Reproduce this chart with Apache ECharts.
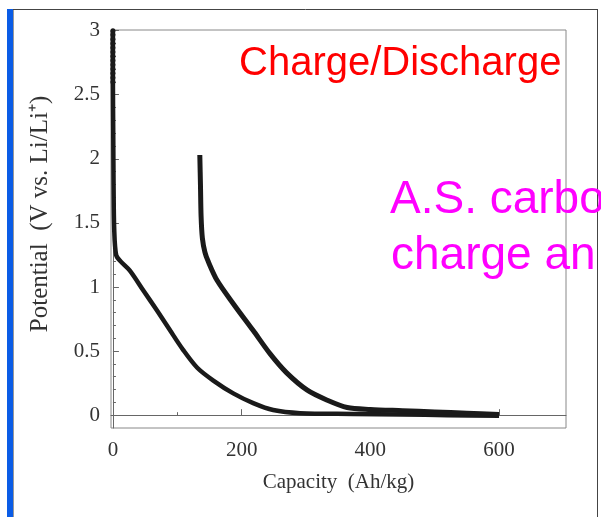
<!DOCTYPE html>
<html>
<head>
<meta charset="utf-8">
<script src="https://cdn.jsdelivr.net/npm/echarts@6/dist/echarts.min.js"></script>
<style>html,body{margin:0;padding:0;background:#fff;}#c{width:601px;height:517px;}</style>
</head>
<body>
<div id="c"></div>
<script>
// Discharge curve (first cycle, starting at 3 V)
var dischargeCap = [0,0,0,0,0,0,0,0,0,0,0,0,0,0.5,1,2,5,12,26,47,68,89,109,131,156,187,218,249,291,373,450,520,600];
var dischargePot = [3.0,2.967,2.933,2.9,2.867,2.833,2.8,2.767,2.733,2.7,2.667,2.633,2.6,2.2,1.8,1.45,1.25,1.2,1.13,0.975,0.82,0.66,0.51,0.37,0.27,0.17,0.094,0.04,0.016,0.01,0.005,0.0,-0.005];
// Charge curve (starting at 2 V)
var chargeCap = [135,136,137,139,143,148,162,187,218,244,270,302,333,364,400,450,500,550,600];
var chargePot = [2.03,1.8,1.55,1.38,1.27,1.2,1.05,0.87,0.66,0.48,0.33,0.195,0.117,0.06,0.045,0.035,0.025,0.015,0.005];
// Tick values
var xMajorTicks = [0,200,400,600];
var xMinorTicks = [100,300,500];
var yMajorTicks = [0,0.5,1,1.5,2,2.5,3];
var yMinorTicks = [0.1,0.2,0.3,0.4,0.6,0.7,0.8,0.9,1.1,1.2,1.3,1.4,1.6,1.7,1.8,1.9,2.1,2.2,2.3,2.4,2.6,2.7,2.8,2.9];
var xName = 'Capacity  (Ah/kg)';
var yName = 'Potential  (V vs. Li/Li\u207A)';
var titleText = 'Charge/Discharge';
var noteLine1 = 'A.S. carbo';
var noteLine2 = 'charge an';

function zip(a, b) { return a.map(function (v, i) { return [v, b[i]]; }); }

var serif = 'Liberation Serif';
var axisColor = '#666';
var txtColor = '#333';

var chart = echarts.init(document.getElementById('c'), null, {renderer: 'canvas'});
chart.setOption({
  animation: false,
  backgroundColor: '#fff',
  grid: {left: 111, top: 30, right: 35, bottom: 89, show: true, borderColor: '#888', borderWidth: 1, backgroundColor: 'transparent'},
  xAxis: [{
    type: 'value', min: -3, max: 704,
    name: xName, nameLocation: 'middle', nameGap: 44,
    nameTextStyle: {fontFamily: serif, fontSize: 21, color: txtColor},
    axisLine: {show: true, lineStyle: {color: axisColor, width: 1}},
    axisTick: {show: true, inside: true, length: 6, customValues: xMajorTicks, lineStyle: {color: axisColor}},
    axisLabel: {show: true, customValues: xMajorTicks, margin: 12, fontFamily: serif, fontSize: 21, color: txtColor},
    splitLine: {show: false}
  }, {
    type: 'value', min: -3, max: 704, position: 'bottom',
    axisLine: {show: false},
    axisTick: {show: true, inside: true, length: 3, customValues: xMinorTicks, lineStyle: {color: axisColor}},
    axisLabel: {show: false},
    splitLine: {show: false}
  }],
  yAxis: [{
    type: 'value', min: -0.1, max: 3.005,
    name: yName, nameLocation: 'middle', nameGap: 58,
    nameTextStyle: {fontFamily: serif, fontSize: 25, color: txtColor, padding: [0, 0, 0, 30]},
    axisLine: {show: true, lineStyle: {color: axisColor, width: 1}},
    axisTick: {show: true, inside: true, length: 6, customValues: yMajorTicks, lineStyle: {color: axisColor}},
    axisLabel: {show: true, customValues: yMajorTicks, margin: 11, fontFamily: serif, fontSize: 21, color: txtColor},
    splitLine: {show: false}
  }, {
    type: 'value', min: -0.1, max: 3.005, position: 'left',
    axisLine: {show: false},
    axisTick: {show: true, inside: true, length: 3, customValues: yMinorTicks, lineStyle: {color: axisColor}},
    axisLabel: {show: false},
    splitLine: {show: false}
  }],
  series: [{
    type: 'line', name: 'Discharge', xAxisIndex: 0, yAxisIndex: 0,
    data: zip(dischargeCap, dischargePot),
    showSymbol: true, symbol: 'circle',
    symbolSize: function (v) { return v[1] >= 2.59 ? 5 : 0; },
    itemStyle: {color: '#1a1a1a'},
    lineStyle: {color: '#1a1a1a', width: 4.5},
    smooth: 0.3
  }, {
    type: 'line', name: 'Charge', xAxisIndex: 0, yAxisIndex: 0,
    data: zip(chargeCap, chargePot),
    showSymbol: false,
    lineStyle: {color: '#1a1a1a', width: 5},
    smooth: 0.3
  }],
  graphic: [
    {type: 'rect', shape: {x: 7, y: 9, width: 6, height: 508}, style: {fill: '#0a5ce6'}, silent: true},
    {type: 'line', shape: {x1: 13.5, y1: 9, x2: 13.5, y2: 517}, style: {stroke: '#999', lineWidth: 1}, silent: true},
    {type: 'line', shape: {x1: 13, y1: 9.5, x2: 598, y2: 9.5}, style: {stroke: '#444', lineWidth: 1}, silent: true},
    {type: 'line', shape: {x1: 597.5, y1: 9, x2: 597.5, y2: 517}, style: {stroke: '#444', lineWidth: 1}, silent: true},
    {type: 'text', x: 239, y: 64, style: {text: titleText, fill: '#ff0000', font: '40px "Liberation Sans"', textAlign: 'left', textVerticalAlign: 'middle'}, silent: true},
    {type: 'text', x: 390, y: 200, style: {text: noteLine1, fill: '#ff00ff', font: '46px "Liberation Sans"', textAlign: 'left', textVerticalAlign: 'middle'}, silent: true},
    {type: 'text', x: 391, y: 256, style: {text: noteLine2, fill: '#ff00ff', font: '46px "Liberation Sans"', textAlign: 'left', textVerticalAlign: 'middle'}, silent: true}
  ]
});
</script>
</body>
</html>
